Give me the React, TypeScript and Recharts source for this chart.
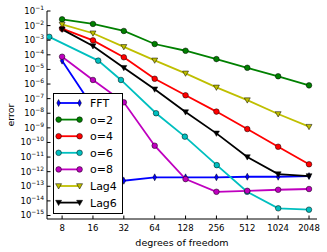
import React from "react";
import { LineChart, Line, XAxis, YAxis, Legend } from "recharts";

// grid sizes (degrees of freedom)
const dofPow2 = [8, 16, 32, 64, 128, 256, 512, 1024, 2048];
const dofMult6 = [6, 18, 30, 66, 126, 258, 510, 1026, 2046];

const xTicks = [8, 16, 32, 64, 128, 256, 512, 1024, 2048];
const yTicks = [1e-15, 1e-14, 1e-13, 1e-12, 1e-11, 1e-10, 1e-9, 1e-8, 1e-7, 1e-6, 1e-5, 1e-4, 1e-3, 1e-2, 1e-1];

// error values
const fftErr = [4.0e-5, 2.6e-8, 2.4e-13, 4.1e-13, 4.1e-13, 4.1e-13, 4.5e-13, 4.5e-13, 5.0e-13];
const o2Err = [2.7e-2, 1.3e-2, 4.3e-3, 5.5e-4, 1.9e-4, 5.1e-5, 1.3e-5, 3.4e-6, 8.1e-7];
const o4Err = [6.2e-3, 9.8e-4, 6.8e-5, 2.3e-6, 1.7e-7, 1.3e-8, 8.3e-10, 5.1e-11, 3.2e-12];
const o6Err = [1.7e-3, 4.0e-5, 1.9e-6, 1.0e-8, 2.5e-10, 2.8e-12, 4.2e-14, 3.1e-15, 2.5e-15];
const o8Err = [7.4e-5, 1.9e-6, 5.6e-8, 6.0e-11, 3.1e-13, 4.2e-14, 4.9e-14, 5.8e-14, 6.5e-14];
const lag4Err = [1.2e-2, 3.0e-3, 3.5e-4, 4.2e-5, 5.4e-6, 5.9e-7, 7.9e-8, 8.9e-9, 1.2e-9];
const lag6Err = [5.5e-3, 4.0e-4, 1.3e-5, 4.4e-7, 1.2e-8, 4.2e-10, 1.0e-11, 6.8e-13, 5.0e-13];

type Shape = "circle" | "tri" | "thin";

const series = [
  { name: "FFT", color: "#0000ff", shape: "thin" as Shape, xs: dofPow2, ys: fftErr },
  { name: "o=2", color: "#008000", shape: "circle" as Shape, xs: dofPow2, ys: o2Err },
  { name: "o=4", color: "#ff0000", shape: "circle" as Shape, xs: dofPow2, ys: o4Err },
  { name: "o=6", color: "#00bfbf", shape: "circle" as Shape, xs: dofMult6, ys: o6Err },
  { name: "o=8", color: "#bf00bf", shape: "circle" as Shape, xs: dofPow2, ys: o8Err },
  { name: "Lag4", color: "#bfbf00", shape: "tri" as Shape, xs: dofPow2, ys: lag4Err },
  { name: "Lag6", color: "#000000", shape: "tri" as Shape, xs: dofPow2, ys: lag6Err },
];

const TICK = 3.5;

function Marker({ cx, cy, shape, color }: { cx: number; cy: number; shape: Shape; color: string }) {
  if (shape === "circle") {
    return <circle cx={cx} cy={cy} r={2.8} fill={color} stroke="#000" strokeWidth={0.5} />;
  }
  if (shape === "tri") {
    return (
      <polygon
        points={`${cx - 3},${cy - 2.3} ${cx + 3},${cy - 2.3} ${cx},${cy + 3}`}
        fill={color}
        stroke="#000"
        strokeWidth={0.5}
      />
    );
  }
  return (
    <polygon
      points={`${cx},${cy - 3.5} ${cx + 1.8},${cy} ${cx},${cy + 3.5} ${cx - 1.8},${cy}`}
      fill={color}
      stroke="#000"
      strokeWidth={0.5}
    />
  );
}

const XTick = ({ x, y, payload }: any) => (
  <g>
    <line x1={x} x2={x} y1={y} y2={y - TICK} stroke="#000" />
    <text x={x} y={y + 11.5} textAnchor="middle" fontSize={8.5} fill="#000">
      {payload.value}
    </text>
  </g>
);

const YTick = ({ x, y, payload }: any) => {
  const exp = Math.round(Math.log10(payload.value));
  return (
    <g>
      <line x1={x} x2={x + TICK} y1={y} y2={y} stroke="#000" />
      <text x={x - 3} y={y + 3} textAnchor="end" fontSize={8.5} fill="#000">
        10
        <tspan dy={-4} fontSize={6}>
          {"\u2212" + Math.abs(exp)}
        </tspan>
      </text>
    </g>
  );
};

const TopTick = ({ x, y }: any) => <line x1={x} x2={x} y1={y} y2={y + TICK} stroke="#000" />;
const RightTick = ({ x, y }: any) => <line x1={x} x2={x - TICK} y1={y} y2={y} stroke="#000" />;

function LegendBox() {
  return (
    <svg width={70} height={121} style={{ display: "block" }}>
      <rect x={0.5} y={0.5} width={69} height={120} fill="#fff" stroke="#000" />
      {series.map((s, i) => {
        const y = 10 + i * 16.6;
        return (
          <g key={s.name}>
            <line x1={5.6} x2={26.6} y1={y} y2={y} stroke={s.color} strokeWidth={1.8} />
            <Marker cx={5.6} cy={y} shape={s.shape} color={s.color} />
            <Marker cx={26.6} cy={y} shape={s.shape} color={s.color} />
            <text x={37} y={y + 4} fontSize={11} fill="#000">
              {s.name}
            </text>
          </g>
        );
      })}
    </svg>
  );
}

const xDomain = [5.7, 2450];
const yDomain = [5.75e-16, 1e-1];

export default function App() {
  return (
    <div style={{ position: "absolute", left: 0, top: 0, fontFamily: "'DejaVu Sans', sans-serif" }}>
      <LineChart width={327} height={252} margin={{ top: 11, right: 10, left: 0, bottom: 0 }}>
        <XAxis
          xAxisId="b"
          dataKey="x"
          type="number"
          scale="log"
          domain={xDomain}
          allowDataOverflow
          ticks={xTicks}
          interval={0}
          tickSize={0}
          tickMargin={0}
          tick={<XTick />}
          height={33}
          stroke="#000"
          label={{ value: "degrees of freedom", position: "insideBottom", offset: 6, fontSize: 9.5, fill: "#000" }}
        />
        <XAxis
          xAxisId="t"
          orientation="top"
          dataKey="x"
          type="number"
          scale="log"
          domain={xDomain}
          allowDataOverflow
          ticks={xTicks}
          interval={0}
          tickSize={0}
          tickMargin={0}
          tick={<TopTick />}
          height={0}
          stroke="#000"
        />
        <YAxis
          yAxisId="l"
          type="number"
          scale="log"
          domain={yDomain}
          allowDataOverflow
          ticks={yTicks}
          interval={0}
          tickSize={0}
          tickMargin={0}
          tick={<YTick />}
          width={47}
          stroke="#000"
          label={{ value: "error", angle: -90, position: "center", dx: -13, fontSize: 9.5, fill: "#000" }}
        />
        <YAxis
          yAxisId="r"
          orientation="right"
          type="number"
          scale="log"
          domain={yDomain}
          allowDataOverflow
          ticks={yTicks}
          interval={0}
          tickSize={0}
          tickMargin={0}
          tick={<RightTick />}
          width={0}
          stroke="#000"
        />
        {series.map((s) => (
          <Line
            key={s.name}
            xAxisId="b"
            yAxisId="l"
            name={s.name}
            data={s.xs.map((x, i) => ({ x, y: s.ys[i] }))}
            dataKey="y"
            stroke={s.color}
            strokeWidth={1.8}
            isAnimationActive={false}
            dot={(p: any) => (
              <Marker key={`${s.name}-${p.index}`} cx={p.cx} cy={p.cy} shape={s.shape} color={s.color} />
            )}
            activeDot={false}
          />
        ))}
        <Legend
          layout="vertical"
          align="center"
          verticalAlign="middle"
          content={() => <LegendBox />}
          wrapperStyle={{ left: 52.7, top: 93.3, width: 70, height: 121 }}
        />
      </LineChart>
    </div>
  );
}
